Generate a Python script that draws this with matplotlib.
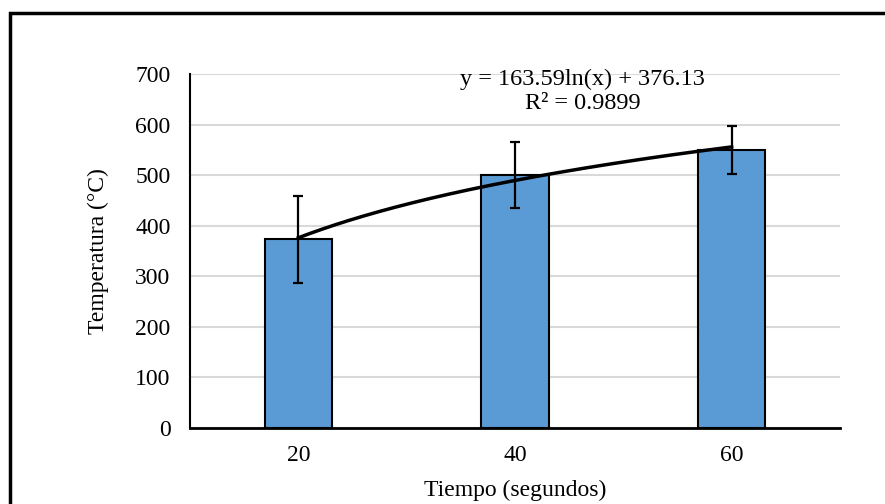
import numpy as np
import matplotlib
matplotlib.use("Agg")
import matplotlib.pyplot as plt
from matplotlib.patches import Rectangle

# Data
categories = ["20", "40", "60"]
temperatures = [373, 500, 550]
errors = [86, 65, 48]
trend_a = 163.59
trend_b = 376.13
trend_label = "y = 163.59ln(x) + 376.13\nR² = 0.9899"
y_ticks = [0, 100, 200, 300, 400, 500, 600, 700]

plt.rcParams['font.family'] = ['Liberation Serif', 'DejaVu Serif']

fig = plt.figure(figsize=(8.85, 5.04), dpi=100)
ax = fig.add_axes([190/885, 1-428/504, 650/885, 354/504])

x = np.arange(len(categories))
ax.bar(x, temperatures, width=0.31, color="#5B9BD5", edgecolor="black",
       linewidth=1.5, zorder=3)
ax.errorbar(x, temperatures, yerr=errors, fmt="none", ecolor="black",
            elinewidth=1.6, capsize=3.7, capthick=1.6, zorder=4)

# Logarithmic trendline (Excel x = 1..n)
xt = np.linspace(1, len(categories), 200)
yt = trend_a * np.log(xt) + trend_b
ax.plot(xt - 1, yt, color="black", linewidth=2.5, zorder=5)

ax.text(0.604, 0.95, trend_label, transform=ax.transAxes, ha="center",
        va="center", fontsize=17.5, linespacing=1.2, zorder=6)

ax.set_xlim(-0.5, len(categories) - 0.5)
ax.set_ylim(0, 700)
ax.set_yticks(y_ticks)
ax.set_xticks(x)
ax.set_xticklabels(categories)
ax.tick_params(axis="both", length=0, labelsize=17)
ax.tick_params(axis="y", pad=14)
ax.tick_params(axis="x", pad=12)
ax.grid(axis="y", color="#d9d9d9", linewidth=1.5, zorder=0)
ax.set_axisbelow(True)
for s in ["top", "right"]:
    ax.spines[s].set_visible(False)
ax.spines["left"].set_linewidth(1.5)
ax.spines["bottom"].set_linewidth(2)

ax.set_ylabel("Temperatura (°C)", fontsize=17, labelpad=19)
ax.set_xlabel("Tiempo (segundos)", fontsize=17, labelpad=10)

# outer frame (cut off at right and bottom)
fig.patches.append(Rectangle((10/885, -0.1), 1.2, (504-13)/504 + 0.1,
                             transform=fig.transFigure, fill=False,
                             edgecolor="black", linewidth=2.5))

fig.savefig("out.png", dpi=100)
